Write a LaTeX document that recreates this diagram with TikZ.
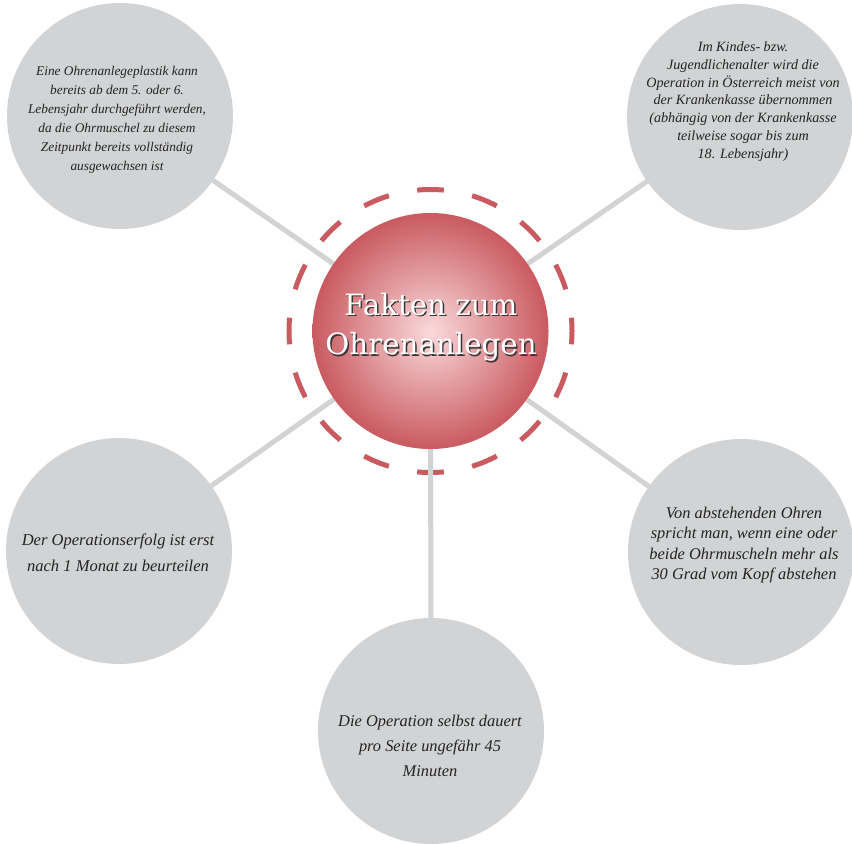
\documentclass[tikz,border=0pt]{standalone}
\usepackage{fontspec}
\setmainfont{Liberation Serif}
\newfontfamily\titlefont{DejaVu Serif}
\usetikzlibrary{backgrounds}

\definecolor{ringred}{RGB}{201,90,96}
\definecolor{bubblegray}{RGB}{209,211,212}
\definecolor{innerpink}{RGB}{250,218,219}
\definecolor{shadowgray}{RGB}{55,55,55}
\definecolor{inkblack}{RGB}{35,35,35}

\tikzset{
  bubble/.style={circle, fill=bubblegray, inner sep=0pt, outer sep=0pt, minimum size=169.5pt},
  bubbletext/.style={align=center, text=inkblack, inner sep=0pt},
  spoke/.style={draw=bubblegray, line width=3.75pt},
  hub/.style={circle, inner sep=0pt, outer sep=0pt, minimum size=177pt,
    shading=radial, inner color=innerpink, outer color=ringred},
  hubring/.style={draw=ringred, line width=3.75pt,
    dash pattern=on 20pt off 21.68pt, dash phase=10pt},
  titletext/.style={align=center, inner sep=0pt,
    font=\titlefont\fontsize{22}{29.5}\selectfont},
}

\begin{document}
\begin{tikzpicture}[x=0.75pt,y=0.75pt,yscale=-1,xscale=1]
\useasboundingbox (0,0) rectangle (852,843);

% centre
\node[hub] (ctr) at (430.5,331) {};

% outer circles
\node[bubble] (tl) at (120,116) {};
\node[bubble] (tr) at (740,117) {};
\node[bubble] (bl) at (119,551) {};
\node[bubble] (br) at (741,552) {};
\node[bubble] (bt) at (431,731) {};

% ring and spokes behind
\begin{scope}[on background layer]
  \draw[hubring] (ctr) circle (141.5);
  \draw[spoke] (ctr) -- (tl);
  \draw[spoke] (ctr) -- (tr);
  \draw[spoke] (ctr) -- (bl);
  \draw[spoke] (ctr) -- (br);
  \draw[spoke] (ctr) -- (bt);
\end{scope}

% Text Node
\node[titletext, text=shadowgray, xshift=1.1pt, yshift=-1.1pt] (titleshadow) at (431,327) {Fakten zum\\Ohrenanlegen};
\node[titletext, text=white] (title) at (431,327) {Fakten zum\\Ohrenanlegen};

% Text Nodes
\node[bubbletext, font=\fontsize{10}{14.25}\selectfont\itshape] (tltext) at (117,119.5)
  {Eine Ohrenanlegeplastik kann\\bereits ab dem 5. oder 6.\\Lebensjahr durchgeführt werden,\\da die Ohrmuschel zu diesem\\Zeitpunkt bereits vollständig\\ausgewachsen ist};
\node[bubbletext, font=\fontsize{10.6}{13.35}\selectfont\itshape] (trtext) at (743,101.5)
  {Im Kindes- bzw.\\Jugendlichenalter wird die\\Operation in Österreich meist von\\der Krankenkasse übernommen\\(abhängig von der Krankenkasse\\teilweise sogar bis zum\\18. Lebensjahr)};
\node[bubbletext, font=\fontsize{12.4}{19.5}\selectfont\itshape] (bltext) at (118,553)
  {Der Operationserfolg ist erst\\nach 1 Monat zu beurteilen};
\node[bubbletext, font=\fontsize{12.3}{15.2}\selectfont\itshape] (brtext) at (744,545)
  {Von abstehenden Ohren\\spricht man, wenn eine oder\\beide Ohrmuscheln mehr als\\30 Grad vom Kopf abstehen};
\node[bubbletext, font=\fontsize{12.3}{19}\selectfont\itshape] (bttext) at (430,746)
  {Die Operation selbst dauert\\pro Seite ungefähr 45\\Minuten};

\end{tikzpicture}
\end{document}
